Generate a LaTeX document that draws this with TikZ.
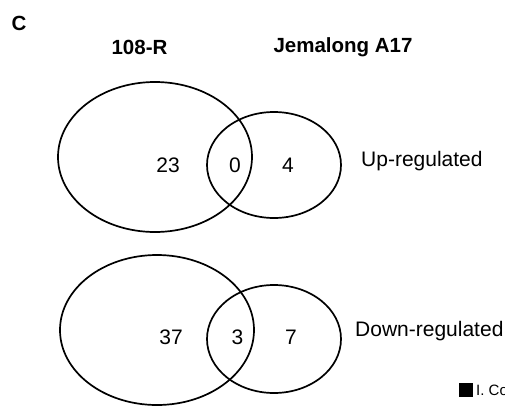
\documentclass[tikz,border=0pt]{standalone}
\usepackage{fontspec}
\setmainfont{Liberation Sans}
\usetikzlibrary{shapes.geometric}
\begin{document}
\begin{tikzpicture}[x=1pt,y=-1pt,
  venn/.style={draw=black,line width=1.7pt,ellipse,inner sep=0pt},
  lbl/.style={font=\fontsize{21}{25}\selectfont,inner sep=0pt},
  hdr/.style={font=\fontsize{20.5}{24}\selectfont\bfseries,inner sep=0pt}]
\useasboundingbox (0,0) rectangle (505,405);
\clip (0,0) rectangle (505,405);
% top Venn
\node[venn,minimum width=194pt,minimum height=150pt] (tb) at (155,157) {};
\node[venn,minimum width=134pt,minimum height=106pt] (ts) at (274,165) {};
% bottom Venn
\node[venn,minimum width=194pt,minimum height=150pt] (bb) at (157,330) {};
\node[venn,minimum width=134pt,minimum height=108pt] (bs) at (274,339) {};
% labels
\node[hdr] (c) at (19,23) {C};
\node[hdr] (h1) at (139.5,47) {108-R};
\node[hdr] (h2) at (343,47) {Jemalong A17};
\node[lbl] (n23) at (168,165.5) {23};
\node[lbl] (n0) at (235,165.5) {0};
\node[lbl] (n4) at (288,165.5) {4};
\node[lbl] (n37) at (171,337) {37};
\node[lbl] (n3) at (237.5,337) {3};
\node[lbl] (n7) at (291,337) {7};
\node[lbl,anchor=west] (up) at (361,161) {Up-regulated};
\node[lbl,anchor=west] (down) at (355,331) {Down-regulated};
% cut-off legend
\node[fill=black,minimum size=14pt,inner sep=0pt] (sq) at (465.5,390) {};
\node[font=\fontsize{15}{18}\selectfont,anchor=west,inner sep=0pt] (leg) at (476,390.5) {I. Co};
\end{tikzpicture}
\end{document}
